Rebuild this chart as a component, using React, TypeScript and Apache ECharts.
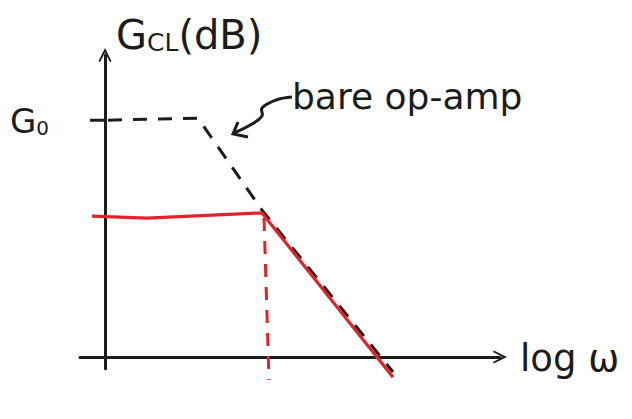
import React, { useEffect, useRef } from "react";
import * as echarts from "echarts";

// x: log ω (arbitrary units, 0 = vertical axis), y: gain in dB (arbitrary, G0 = 60)
const bareOpAmpX = [0.12, 3.72, 6.28, 11.52];
const bareOpAmpY = [60.0, 60.5, 37.2, -3.8];
const closedLoopX = [-0.52, 1.68, 6.28, 11.52];
const closedLoopY = [35.7, 35.2, 36.5, -5.1];
const cornerX = [6.36, 6.56];
const cornerY = [35.2, -5.8];
const g0TickX = [-0.6, 0];
const g0TickY = [60, 60];

const zip = (xs: number[], ys: number[]) => xs.map((x, i) => [x, ys[i]]);

const INK = "#1c1c1c";
const RED = "#e3232c";
const FONT = "'DejaVu Sans', 'Noto Sans', sans-serif";
const CHEVRON = "path://M0,12 L6,0 L12,12 L10.5,12.8 L6,4 L1.5,12.8 Z";

export default function App() {
  const ref = useRef<HTMLDivElement>(null);
  useEffect(() => {
    if (!ref.current) return;
    const chart = echarts.init(ref.current, null, { renderer: "svg" });
    chart.setOption({
      animation: false,
      backgroundColor: "#ffffff",
      grid: { left: 80, right: 132, top: 55, bottom: 50.15 },
      xAxis: {
        type: "value",
        min: -1,
        max: 15.8,
        axisLine: {
          onZero: true,
          symbol: ["none", CHEVRON],
          symbolSize: [14, 14],
          lineStyle: { color: INK, width: 3 },
        },
        axisTick: { show: false },
        axisLabel: { show: false },
        splitLine: { show: false },
      },
      yAxis: {
        type: "value",
        min: -3,
        max: 76.5,
        axisLine: {
          show: true,
          onZero: true,
          symbol: ["none", CHEVRON],
          symbolSize: [14, 14],
          lineStyle: { color: INK, width: 3 },
        },
        axisTick: { show: false },
        axisLabel: { show: false },
        splitLine: { show: false },
      },
      series: [
        {
          name: "G0 tick",
          type: "line",
          data: zip(g0TickX, g0TickY),
          symbol: "none",
          clip: false,
          lineStyle: { color: INK, width: 3 },
        },
        {
          name: "bare op-amp",
          type: "line",
          data: zip(bareOpAmpX, bareOpAmpY),
          symbol: "none",
          clip: false,
          z: 2,
          lineStyle: { color: INK, width: 3, type: [14, 11] },
        },
        {
          name: "closed loop",
          type: "line",
          data: zip(closedLoopX, closedLoopY),
          symbol: "none",
          clip: false,
          z: 3,
          lineStyle: { color: RED, width: 3.2 },
        },
        {
          name: "corner",
          type: "line",
          data: zip(cornerX, cornerY),
          symbol: "none",
          clip: false,
          z: 3,
          lineStyle: { color: RED, width: 3, type: [13, 10] },
        },
      ],
      graphic: [
        {
          type: "text",
          left: 116,
          top: 15,
          style: {
            text: "{a|G}{b|CL}{a|(dB)}",
            fill: INK,
            rich: {
              a: { fontSize: 40, fontFamily: FONT, fill: INK },
              b: { fontSize: 25, fontFamily: FONT, fill: INK, verticalAlign: "bottom" },
            },
          },
        },
        {
          type: "text",
          left: 10,
          top: 104,
          style: {
            text: "{a|G}{b|0}",
            fill: INK,
            rich: {
              a: { fontSize: 34, fontFamily: FONT, fill: INK },
              b: { fontSize: 20, fontFamily: FONT, fill: INK, verticalAlign: "bottom" },
            },
          },
        },
        {
          type: "text",
          left: 292,
          top: 78,
          style: { text: "bare op-amp", fill: INK, font: `36px ${FONT}` },
        },
        {
          type: "text",
          left: 520,
          top: 340,
          style: { text: "log ω", fill: INK, font: `37px ${FONT}` },
        },
        {
          type: "polyline",
          shape: {
            points: [
              [292, 97],
              [276, 100],
              [262, 108],
              [262, 116],
              [252, 124],
              [234, 133],
            ],
            smooth: 0.4,
          },
          style: { stroke: INK, lineWidth: 3, fill: "none" },
        },
        {
          type: "polyline",
          shape: { points: [[238, 122], [233, 134], [248, 137]] },
          style: { stroke: INK, lineWidth: 3, fill: "none" },
        },
      ],
    });
    return () => chart.dispose();
  }, []);
  return <div ref={ref} style={{ width: 632, height: 419, margin: -8 }} />;
}
